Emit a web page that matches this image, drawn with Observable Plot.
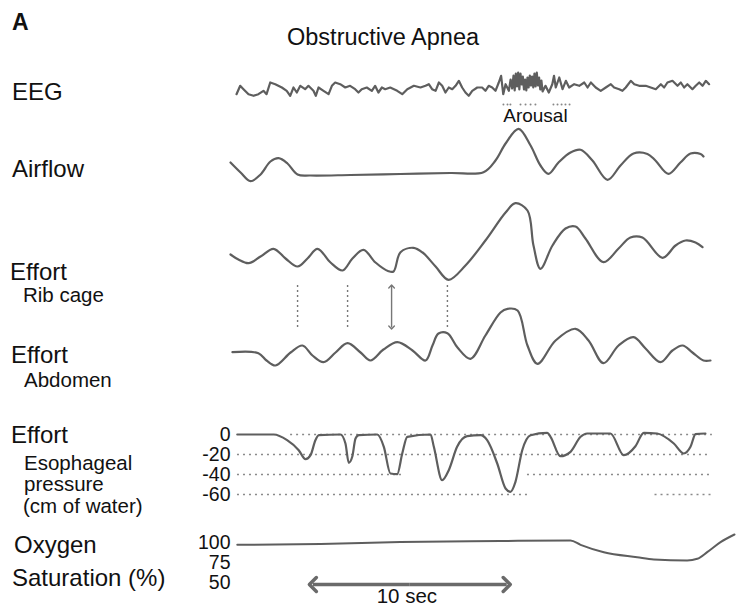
<!DOCTYPE html>
<html><head><meta charset="utf-8">
<script src="https://cdn.jsdelivr.net/npm/d3@7"></script>
<script src="https://cdn.jsdelivr.net/npm/@observablehq/plot@0.6"></script>
<style>
body{margin:0;background:#fff;}
#fig{position:relative;width:738px;height:610px;font-family:"Liberation Sans",Arial,Helvetica,sans-serif;color:#111;overflow:hidden;background:#fff}
.lab{position:absolute;white-space:nowrap;line-height:1}
</style></head><body><div id="fig"></div><script>
// ---------- data (time in seconds, amplitudes in arbitrary units unless noted) ----------
const eeg = [[0.31,-5.7],[0.50,2.7],[0.67,-0.7],[0.93,-5.7],[1.19,-7.3],[1.44,-5.7],[1.70,-2.3],[1.86,-5.7],[2.05,6],[2.31,4.3],[2.65,1],[2.90,-2.3],[3.08,-7.3],[3.25,1],[3.42,-4],[3.60,2.7],[3.85,-0.7],[4.02,2.7],[4.28,-2.3],[4.40,-7.3],[4.54,1],[4.80,-2.3],[5.06,-5.7],[5.23,2.7],[5.40,6],[5.66,4.3],[5.92,1],[6.17,2.7],[6.43,-0.7],[6.60,-4],[6.77,-0.7],[7.03,1],[7.29,-2.3],[7.46,2.7],[7.63,-4],[7.81,1],[7.98,-0.7],[8.24,1],[8.60,-2.3],[8.86,-5.7],[9.12,-0.7],[9.46,2.7],[9.80,1],[10.06,2.7],[10.23,4.3],[10.40,-0.7],[10.58,-2.3],[10.75,6],[10.92,2.7],[11.09,-4],[11.26,1],[11.44,-0.7],[11.61,2.7],[11.78,7.7],[11.95,1],[12.12,-4],[12.29,-7.3],[12.47,-2.3],[12.73,1],[12.98,1],[13.15,-2.3],[13.32,2.7],[13.50,1],[13.67,-2.3],[13.84,6],[13.96,12.7],[14.07,-5.7],[14.19,4.3],[14.36,-2.3],[14.45,9],[14.53,0],[14.60,13],[14.66,-2],[14.72,15],[14.78,2],[14.84,16],[14.90,-1],[14.96,15],[15.02,4],[15.08,12],[15.14,-1],[15.20,9],[15.26,-2],[15.32,11],[15.38,1],[15.44,13],[15.50,3],[15.56,12],[15.62,1],[15.68,15],[15.74,2],[15.80,16],[15.86,3],[15.92,11],[15.98,-1],[16.04,8],[16.10,-3],[16.25,2.7],[16.42,-4],[16.60,4.3],[16.69,12.7],[16.78,1],[16.96,11],[17.13,-0.7],[17.30,7.7],[17.47,1],[17.73,4.3],[17.99,2.7],[18.25,6],[18.42,1],[18.59,6],[18.84,1],[19.10,-2.3],[19.36,1],[19.62,4.3],[19.79,1],[20.05,-0.7],[20.22,-2.3],[20.39,1],[20.65,7.7],[20.83,4.3],[21.08,2.7],[21.42,2.7],[21.68,1],[21.94,-0.7],[22.20,4.3],[22.37,1],[22.54,6],[22.80,7.7],[23.06,2.7],[23.23,6],[23.40,1],[23.57,4.3],[23.83,-0.7],[24.00,2.7],[24.18,6],[24.35,2.7],[24.52,7.7],[24.69,4.3]];
const arousalMarks = [14.08,14.29,14.44,14.96,15.22,15.48,15.73,16.66,16.87,17.08,17.28,17.49];
const arousalLabel = {t: 15.73, text: "Arousal"};

const airflow = [[0,10],[0.52,0],[1.03,-8.7],[1.55,-2],[2.06,11],[2.48,14.3],[2.94,9],[3.46,-2],[4.13,-3],[6.19,-2.5],[8.77,-1.5],[11.35,-0.5],[13.05,0.3],[13.67,12],[14.19,29],[14.86,43.7],[15.48,27],[15.99,7],[16.40,-1.3],[16.92,10],[17.54,20],[18.06,22.7],[18.67,12],[19.45,-7.3],[20.12,7],[20.79,19],[21.51,18.5],[21.92,12],[22.59,-1.3],[23.21,10],[23.73,19],[24.25,18.5],[24.40,16]];

const ribCage = [[0,6],[0.41,1],[0.93,-2.7],[1.55,4],[2.22,11.7],[2.84,2],[3.46,-6],[3.97,2],[4.49,11.7],[5.16,-2],[5.78,-10],[6.29,2],[6.86,10.7],[7.48,-2],[8.15,-10.7],[8.41,-11],[8.77,8.3],[9.44,12.7],[9.91,8],[10.58,-6],[11.25,-19.3],[12.12,-5],[13.15,20],[14.19,48],[14.70,57.3],[15.32,50],[15.63,15],[15.99,-8.3],[16.61,15],[17.28,32],[17.80,34],[18.31,22],[19.24,-1.7],[20.02,12],[20.63,23],[21.25,23],[22.29,2.7],[22.96,15],[23.47,20],[23.99,18],[24.35,13.3]];

const abdomen = [[0.10,0.3],[1.44,-0.7],[1.86,-8],[2.32,-13],[3.10,0],[3.71,7],[4.23,-3],[4.80,-9.7],[5.42,0],[6.04,9.3],[6.71,0],[7.22,-8],[7.89,3],[8.61,10.3],[9.39,2],[10.06,-8],[10.42,7],[10.73,19],[11.19,19.3],[11.71,5],[12.38,-6.3],[13.15,17],[13.93,40],[14.29,43.7],[14.81,42],[15.32,7],[15.84,-11.3],[16.77,12],[17.80,23.7],[18.47,12],[19.24,-10.7],[20.02,7],[20.79,15.3],[21.41,4],[22.18,-9.7],[22.80,2],[23.32,7],[23.83,0],[24.40,-8],[24.76,-8]];
const effortMarkers = [3.46, 6.04, 8.31, 11.19];

// esophageal pressure, cm H2O
const esophageal = [[0.35,0],[2.23,0],[2.92,-5.7],[3.52,-15.7],[3.87,-24.7],[4.13,-20.7],[4.38,-5.7],[4.56,-0.7],[5.67,0],[5.93,-9],[6.10,-28.3],[6.28,-22.3],[6.45,-4],[6.62,-0.7],[7.57,0],[7.91,-12.3],[8.25,-39],[8.60,-39.7],[8.86,-19],[9.12,-2.3],[10.32,0],[10.49,-12.3],[10.92,-45.7],[11.26,-35.7],[11.69,-12.3],[12.21,-1.7],[12.90,-0.7],[13.24,-5.7],[13.76,-29],[14.19,-54],[14.44,-57.3],[14.70,-47.3],[15.05,-15.7],[15.48,-0.7],[16.34,1.7],[16.51,-2.3],[17.02,-21.7],[17.54,-17.3],[18.06,-2.3],[18.40,1],[19.60,1],[20.29,-20.7],[20.89,-11.7],[21.32,1.7],[22.01,1],[22.87,-9],[23.38,-19],[23.73,-12.3],[23.99,0.3],[24.50,1]];
const esoTicks = [0, -20, -40, -60];
const esoGridLevel = [0, -20, -40, -40, -60, -60];
const esoGridStart = [3.1, 0.36, 0.36, 15.32, 0.36, 21.9];
const esoGridEnd = [24.86, 24.7, 8.93, 24.86, 15.32, 24.86];

// oxygen saturation, %
const oxygen = [[0.35,97.1],[4.64,98.1],[8.77,100.6],[13.93,101.9],[17.54,102.5],[18.06,97.1],[19.26,87.9],[20.98,81.6],[21.84,78.8],[23.56,77.5],[24.08,79.6],[24.59,87.9],[25.28,100.4],[26.0,110]];
const oxyTicks = [100, 75, 50];

const scaleBar = {start: 4.25, end: 14.25, label: "10 sec"};

// ---------- drawing ----------
const fig = document.getElementById("fig");
const FONT = '"Liberation Sans", Arial, Helvetica, sans-serif';
const INK = "#111";
const TRACE = "#5e5e5e";
const tx = d => d[0], ty = d => d[1];

function addText(str, left, baseline, size, weight) {
  const d = document.createElement("div");
  d.className = "lab";
  d.textContent = str;
  d.style.left = left + "px";
  d.style.top = (baseline - 0.8465 * size) + "px";
  d.style.fontSize = size + "px";
  if (weight) d.style.fontWeight = weight;
  fig.appendChild(d);
}

function panel(top, height, yOpts, marks, fontSize) {
  const svg = Plot.plot({
    width: 738, height,
    marginLeft: 230, marginRight: 4, marginTop: 0, marginBottom: 0,
    x: {domain: [0, 26], axis: null},
    y: Object.assign({axis: null}, yOpts),
    style: {background: "none", overflow: "visible", fontFamily: FONT, fontSize: (fontSize || 19.5) + "px", color: INK},
    marks
  });
  svg.style.position = "absolute";
  svg.style.top = top + "px";
  svg.style.left = "0px";
  fig.appendChild(svg);
}

// EEG
panel(60, 65, {domain: [-37, 28]}, [
  Plot.line(eeg, {x: tx, y: ty, stroke: TRACE, strokeWidth: 2.2, strokeLinejoin: "round"}),
  Plot.dot(arousalMarks, {x: d => d, y: -16, r: 1, fill: "#888", stroke: null}),
  Plot.text([arousalLabel], {x: "t", y: -27.5, text: "text", fontSize: 19, fill: INK})
]);

// Airflow
panel(120, 70, {domain: [-18, 52]}, [
  Plot.line(airflow, {x: tx, y: ty, stroke: TRACE, strokeWidth: 2.2, curve: "catmull-rom"})
]);

// Rib cage
panel(195, 95, {domain: [-30, 65]}, [
  Plot.line(ribCage, {x: tx, y: ty, stroke: TRACE, strokeWidth: 2.2, curve: "catmull-rom"})
]);

// Abdomen + effort markers (arrow drawn as two halves from the middle so both heads point outward)
const arrowMid = 45.5;
panel(280, 95, {domain: [-23, 72]}, [
  Plot.ruleX(effortMarkers.filter((d, i) => i !== 2), {x: d => d, y1: 67, y2: 25, stroke: "#777", strokeWidth: 1.4, strokeDasharray: "2,3"}),
  Plot.link([effortMarkers[2]], {x1: d => d, x2: d => d, y1: arrowMid, y2: 66, stroke: "#777", strokeWidth: 1.4, markerEnd: "arrow"}),
  Plot.link([effortMarkers[2]], {x1: d => d, x2: d => d, y1: arrowMid, y2: 25, stroke: "#777", strokeWidth: 1.4, markerEnd: "arrow"}),
  Plot.line(abdomen, {x: tx, y: ty, stroke: TRACE, strokeWidth: 2.2, curve: "catmull-rom"})
]);

// Esophageal pressure
const esoGrid = esoGridLevel.map((p, i) => ({p, t1: esoGridStart[i], t2: esoGridEnd[i]}));
panel(420, 85, {domain: [-71, 14], axis: "left", ticks: esoTicks, tickSize: 0, tickPadding: 0, tickFormat: d => String(d), label: null}, [
  Plot.ruleY(esoGrid, {y: "p", x1: "t1", x2: "t2", stroke: "#8a8a8a", strokeWidth: 1.3, strokeDasharray: "2,4"}),
  Plot.line(esophageal, {x: tx, y: ty, stroke: TRACE, strokeWidth: 2.2, curve: "monotone-x"})
]);

// Oxygen saturation
panel(525, 70, {domain: [33.75, 121.25], axis: "left", ticks: oxyTicks, tickSize: 0, tickPadding: 0, tickFormat: d => String(d), label: null}, [
  Plot.line(oxygen, {x: tx, y: ty, stroke: TRACE, strokeWidth: 2, curve: "monotone-x"})
]);

// 10-second scale bar (two halves from the middle, each ending in an arrowhead)
const barMid = (scaleBar.start + scaleBar.end) / 2;
panel(572, 38, {domain: [0, 1]}, [
  Plot.link([scaleBar], {x1: () => barMid, x2: "start", y1: 0.684, y2: 0.684, stroke: "#6a6a6a", strokeWidth: 3.5, markerEnd: "arrow"}),
  Plot.link([scaleBar], {x1: () => barMid, x2: "end", y1: 0.684, y2: 0.684, stroke: "#6a6a6a", strokeWidth: 3.5, markerEnd: "arrow"}),
  Plot.text([scaleBar], {x: () => barMid - 0.15, y: 0.37, text: "label", fontSize: 20.5, fill: INK})
], 20.5);

// labels
addText("A", 12, 30, 23, "bold");
addText("Obstructive Apnea", 287, 46, 23.5);
addText("EEG", 12, 100, 24);
addText("Airflow", 12, 177, 24);
addText("Effort", 10, 280, 24);
addText("Rib cage", 23, 302, 20.5);
addText("Effort", 11, 363, 24);
addText("Abdomen", 24, 387, 20.5);
addText("Effort", 11, 443, 24);
addText("Esophageal", 24, 470, 20.5);
addText("pressure", 24, 491, 20.5);
addText("(cm of water)", 23, 513, 20.5);
addText("Oxygen", 14, 553, 24);
addText("Saturation (%)", 12, 586, 24);
</script></body></html>
